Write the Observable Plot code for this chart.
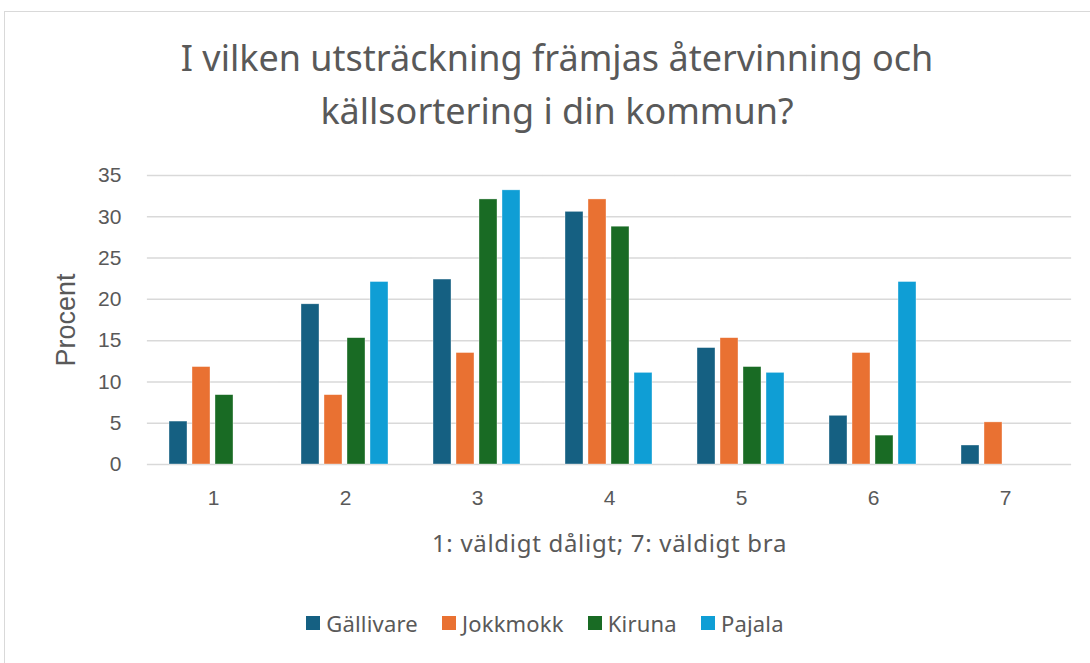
<!DOCTYPE html>
<html><head><meta charset="utf-8">
<script src="https://cdn.jsdelivr.net/npm/d3@7"></script>
<script src="https://cdn.jsdelivr.net/npm/@observablehq/plot@0.6"></script>
<style>
html,body{margin:0;padding:0;background:#fff;width:1090px;height:663px;overflow:hidden;}
#frame{position:absolute;left:4px;top:11px;width:1100px;height:700px;border:1px solid #d9d9d9;box-sizing:border-box;}
.title{position:absolute;left:0;width:1114px;text-align:center;font-family:"Noto Sans",sans-serif;font-size:36px;line-height:44px;color:#595959;white-space:nowrap;}
#chart{position:absolute;left:0;top:150px;}
#legend{position:absolute;left:0;top:608px;width:1090px;display:flex;justify-content:center;gap:24px;font-family:"Noto Sans",sans-serif;font-size:22px;letter-spacing:0.2px;color:#595959;}
#legend span{display:flex;align-items:center;}
#legend i{display:inline-block;width:14px;height:14px;margin-right:6px;}
</style></head>
<body>
<div id="frame"></div>
<div class="title" style="top:36px">I vilken utsträckning främjas återvinning och</div>
<div class="title" style="top:89px">källsortering i din kommun?</div>
<div id="chart"></div>
<div id="legend"></div>
<script>
const categories = ["1","2","3","4","5","6","7"];
const seriesNames = ["Gällivare","Jokkmokk","Kiruna","Pajala"];
const colors = ["#156082","#E97132","#196B24","#0F9ED5"];
const gallivare = [5.2, 19.4, 22.4, 30.6, 14.1, 5.9, 2.3];
const jokkmokk  = [11.8, 8.4, 13.5, 32.1, 15.3, 13.5, 5.1];
const kiruna    = [8.4, 15.3, 32.1, 28.8, 11.8, 3.5, 0];
const pajala    = [0, 22.1, 33.2, 11.1, 11.1, 22.1, 0];
const yTicks = [0,5,10,15,20,25,30,35];
const yTitle = "Procent";
const xTitle = "1: väldigt dåligt; 7: väldigt bra";

const seriesValues = [gallivare, jokkmokk, kiruna, pajala];
const data = [];
seriesNames.forEach((s, i) => categories.forEach((c, j) => {
  data.push({cat: c, series: s, value: seriesValues[i][j]});
}));

const fxPadOuter = 0.16;
const bandStep = (1090 - 147 - 19) / categories.length;
const gridExtend = -fxPadOuter * bandStep;

const plot = Plot.plot({
  width: 1090,
  height: 420,
  marginTop: 25,
  marginBottom: 106,
  marginLeft: 147,
  marginRight: 19,
  style: {fontFamily: '"Liberation Sans", Arial, sans-serif', fontSize: "21px", color: "#595959", background: "transparent", overflow: "visible"},
  fx: {domain: categories, paddingInner: 0.32, paddingOuter: fxPadOuter, label: null},
  x: {domain: seriesNames, paddingInner: 0.2, paddingOuter: 0, axis: null},
  y: {domain: [0, 35], ticks: yTicks, label: null},
  color: {domain: seriesNames, range: colors},
  marks: [
    Plot.gridY(yTicks, {stroke: "#d9d9d9", strokeOpacity: 1, strokeWidth: 1.5, insetLeft: gridExtend, insetRight: gridExtend}),
    Plot.barY(data, {fx: "cat", x: "series", y: "value", fill: "series", stroke: "#ffffff", strokeWidth: 0.6, strokeOpacity: 0.6}),
    Plot.axisY(yTicks, {tickSize: 0, tickPadding: 26 - gridExtend, label: yTitle, labelAnchor: "center", labelArrow: "none", labelOffset: 113, fontSize: 21}),
    Plot.axisFx({anchor: "bottom", tickSize: 0, tickPadding: 26, fontSize: 21, label: xTitle, labelAnchor: "center", labelArrow: "none", labelOffset: 87})
  ]
});
document.getElementById("chart").appendChild(plot);
plot.querySelectorAll("g[aria-label='y-axis label'] text").forEach(t => {
  t.setAttribute("font-size", "27");
});
plot.querySelectorAll("g[aria-label='fx-axis label'] text").forEach(t => {
  t.setAttribute("font-family", '"Noto Sans", sans-serif');
  t.setAttribute("font-size", "24");
  t.setAttribute("letter-spacing", "0.7");
});

const legend = document.getElementById("legend");
seriesNames.forEach((s, i) => {
  const span = document.createElement("span");
  const sw = document.createElement("i");
  sw.style.background = colors[i];
  span.appendChild(sw);
  span.appendChild(document.createTextNode(s));
  legend.appendChild(span);
});
</script>
</body></html>
